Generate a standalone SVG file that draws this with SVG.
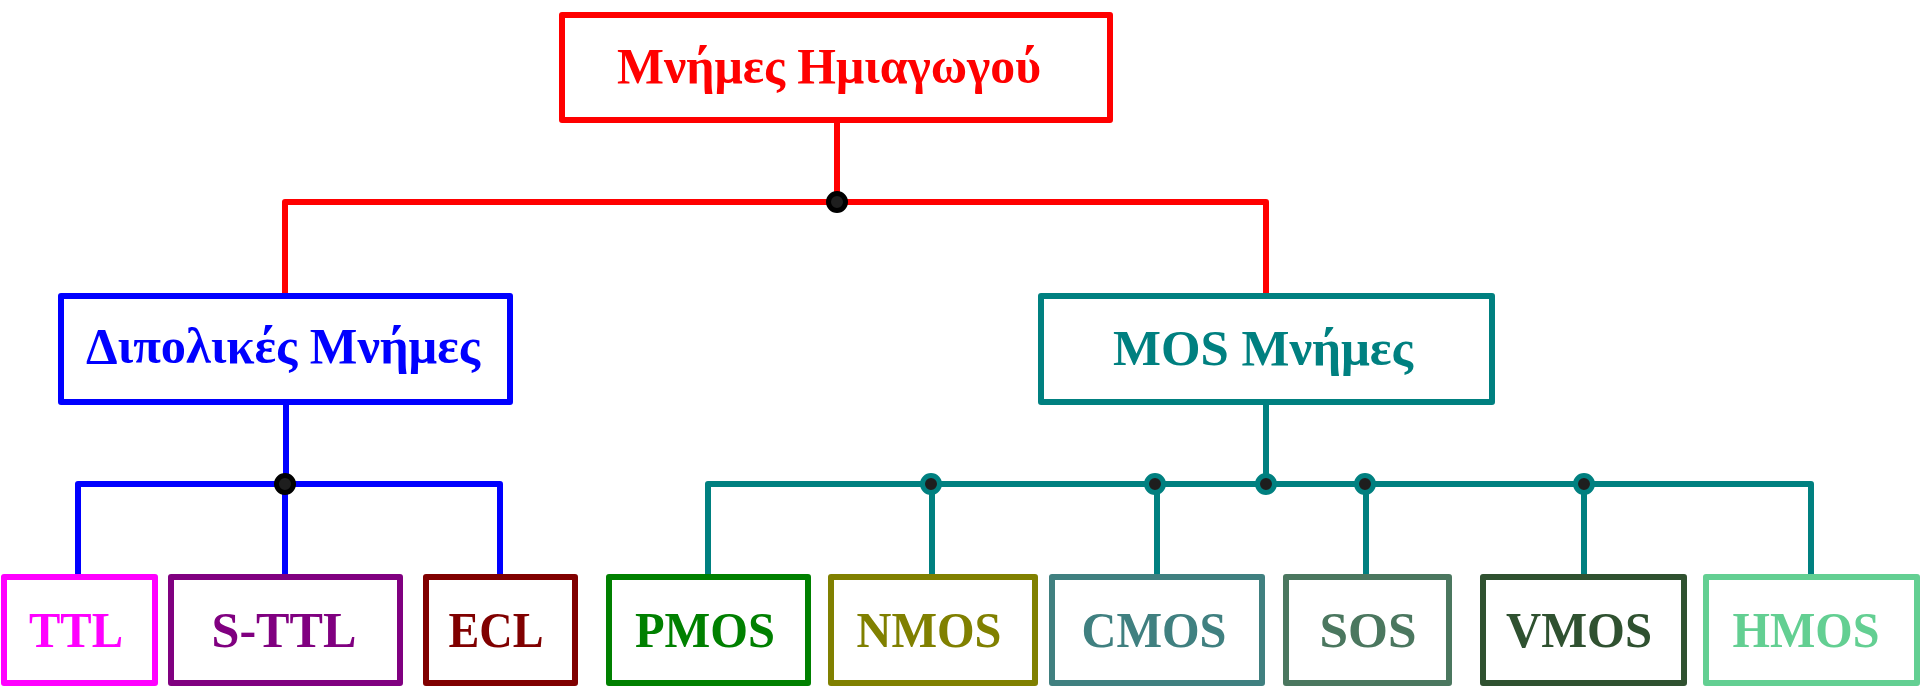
<svg xmlns="http://www.w3.org/2000/svg" width="1920" height="687" viewBox="0 0 1920 687">
<style>
.box{fill:#fff;stroke-width:6;stroke-linejoin:round}
.lbl{font-family:"Liberation Serif","Times New Roman",serif;font-weight:bold;font-size:50px;text-anchor:middle}
.wire{fill:none;stroke-width:6;stroke-linejoin:round}
.jb{fill:#1e1e1e;stroke:#000;stroke-width:5}
.jt{fill:#1e1e1e;stroke:#008080;stroke-width:5}
</style>
<rect width="1920" height="687" fill="#fff"/>
<g id="connectors">
<path class="wire" stroke="#ff0000" d="M837 120V202M285 295V202H1266V295"/>
<path class="wire" stroke="#0000ff" d="M286 402V484M78 577V484H500V577M285 484V577"/>
<path class="wire" stroke="#008080" d="M1266 403V484M708 577V484H1811V577M932 484V577M1157 484V577M1366 484V577M1584 484V577"/>
<circle class="jb" cx="837" cy="202" r="8.5"/>
<circle class="jb" cx="285" cy="484" r="8.5"/>
<circle class="jt" cx="931" cy="484" r="8.5"/>
<circle class="jt" cx="1155" cy="484" r="8.5"/>
<circle class="jt" cx="1266" cy="484" r="8.5"/>
<circle class="jt" cx="1365" cy="484" r="8.5"/>
<circle class="jt" cx="1584" cy="484" r="8.5"/>
</g>
<g id="n-root"><rect class="box" stroke="#ff0000" x="562" y="15" width="548" height="105"/><text class="lbl" fill="#ff0000" x="829" y="83" textLength="424" lengthAdjust="spacingAndGlyphs">Μνήμες Ημιαγωγού</text></g>
<g id="n-bipolar"><rect class="box" stroke="#0000ff" x="61" y="296" width="449" height="106"/><text class="lbl" fill="#0000ff" x="283" y="363" textLength="394" lengthAdjust="spacingAndGlyphs">Διπολικές Μνήμες</text></g>
<g id="n-mos"><rect class="box" stroke="#008080" x="1041" y="296" width="451" height="106"/><text class="lbl" fill="#008080" x="1263" y="365" textLength="300" lengthAdjust="spacingAndGlyphs">MOS Μνήμες</text></g>
<g id="n-ttl"><rect class="box" stroke="#ff00ff" x="4" y="577" width="151" height="106"/><text class="lbl" fill="#ff00ff" x="76" y="647" textLength="94" lengthAdjust="spacingAndGlyphs">TTL</text></g>
<g id="n-sttl"><rect class="box" stroke="#800080" x="171" y="577" width="229" height="106"/><text class="lbl" fill="#800080" x="284" y="647" textLength="145" lengthAdjust="spacingAndGlyphs">S-TTL</text></g>
<g id="n-ecl"><rect class="box" stroke="#800000" x="426" y="577" width="149" height="106"/><text class="lbl" fill="#800000" x="496" y="647" textLength="95" lengthAdjust="spacingAndGlyphs">ECL</text></g>
<g id="n-pmos"><rect class="box" stroke="#008000" x="609" y="577" width="199" height="106"/><text class="lbl" fill="#008000" x="705" y="647" textLength="140" lengthAdjust="spacingAndGlyphs">PMOS</text></g>
<g id="n-nmos"><rect class="box" stroke="#808000" x="831" y="577" width="204" height="106"/><text class="lbl" fill="#808000" x="929" y="647" textLength="145" lengthAdjust="spacingAndGlyphs">NMOS</text></g>
<g id="n-cmos"><rect class="box" stroke="#408080" x="1052" y="577" width="210" height="106"/><text class="lbl" fill="#408080" x="1154" y="647" textLength="145" lengthAdjust="spacingAndGlyphs">CMOS</text></g>
<g id="n-sos"><rect class="box" stroke="#4b775f" x="1286" y="577" width="163" height="106"/><text class="lbl" fill="#4b775f" x="1368" y="647" textLength="97" lengthAdjust="spacingAndGlyphs">SOS</text></g>
<g id="n-vmos"><rect class="box" stroke="#2f5130" x="1483" y="577" width="201" height="106"/><text class="lbl" fill="#2f5130" x="1579" y="647" textLength="146" lengthAdjust="spacingAndGlyphs">VMOS</text></g>
<g id="n-hmos"><rect class="box" stroke="#63cf92" x="1706" y="577" width="211" height="106"/><text class="lbl" fill="#63cf92" x="1806" y="647" textLength="147" lengthAdjust="spacingAndGlyphs">HMOS</text></g>
</svg>
